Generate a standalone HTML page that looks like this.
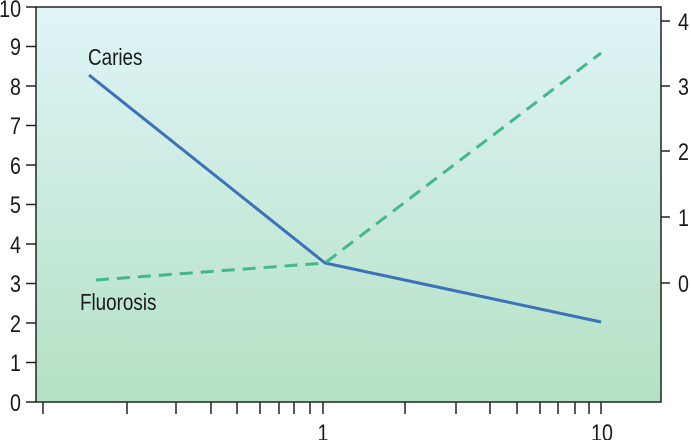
<!DOCTYPE html>
<html><head><meta charset="utf-8"><style>
html,body{margin:0;padding:0;background:#fff;width:691px;height:440px;overflow:hidden}
svg text{font-family:"Liberation Sans",sans-serif;fill:#1a1a1a;transform-box:fill-box;transform:scaleX(.82)}
.e text{transform-origin:right center}
.s text{transform-origin:left center}
.m text{transform-origin:center center}
</style></head><body>
<svg width="691" height="440" viewBox="0 0 691 440" xmlns="http://www.w3.org/2000/svg">
<defs><linearGradient id="g" x1="0" y1="0" x2="0" y2="1">
<stop offset="0" stop-color="#e0f4f8"/><stop offset="1" stop-color="#b3e1c3"/></linearGradient></defs>
<rect x="36" y="7" width="625" height="395" fill="url(#g)" stroke="#222" stroke-width="1.5"/>
<g stroke="#222" stroke-width="1.5">
<line x1="26" y1="402" x2="36" y2="402"/><line x1="26" y1="362.5" x2="36" y2="362.5"/><line x1="26" y1="323" x2="36" y2="323"/><line x1="26" y1="283.5" x2="36" y2="283.5"/><line x1="26" y1="244" x2="36" y2="244"/><line x1="26" y1="204.5" x2="36" y2="204.5"/><line x1="26" y1="165" x2="36" y2="165"/><line x1="26" y1="125.5" x2="36" y2="125.5"/><line x1="26" y1="86" x2="36" y2="86"/><line x1="26" y1="46.5" x2="36" y2="46.5"/><line x1="26" y1="7" x2="36" y2="7"/>
<line x1="661" y1="283" x2="670" y2="283"/><line x1="661" y1="217" x2="670" y2="217"/><line x1="661" y1="151" x2="670" y2="151"/><line x1="661" y1="86" x2="670" y2="86"/><line x1="661" y1="21" x2="670" y2="21"/>
<line x1="43" y1="402" x2="43" y2="414"/><line x1="127" y1="402" x2="127" y2="414"/><line x1="176" y1="402" x2="176" y2="414"/><line x1="211" y1="402" x2="211" y2="414"/><line x1="237" y1="402" x2="237" y2="414"/><line x1="260" y1="402" x2="260" y2="414"/><line x1="279" y1="402" x2="279" y2="414"/><line x1="294" y1="402" x2="294" y2="414"/><line x1="310" y1="402" x2="310" y2="414"/><line x1="323" y1="402" x2="323" y2="414"/>
<line x1="405" y1="402" x2="405" y2="414"/><line x1="456" y1="402" x2="456" y2="414"/><line x1="490" y1="402" x2="490" y2="414"/><line x1="517" y1="402" x2="517" y2="414"/><line x1="540" y1="402" x2="540" y2="414"/><line x1="558" y1="402" x2="558" y2="414"/><line x1="575" y1="402" x2="575" y2="414"/><line x1="589" y1="402" x2="589" y2="414"/><line x1="601" y1="402" x2="601" y2="414"/>
</g>
<g class="e" font-size="24" text-anchor="end">
<text x="21" y="411">0</text><text x="21" y="371">1</text><text x="21" y="332">2</text><text x="21" y="292">3</text><text x="21" y="253">4</text><text x="21" y="213">5</text><text x="21" y="174">6</text><text x="21" y="134">7</text><text x="21" y="95">8</text><text x="21" y="55">9</text><text x="21" y="17">10</text>
</g>
<g class="s" font-size="24">
<text x="678" y="292">0</text><text x="678" y="226">1</text><text x="678" y="160">2</text><text x="678" y="95">3</text><text x="678" y="30">4</text>
</g>
<g class="m" font-size="24" text-anchor="middle"><text x="323" y="441">1</text><text x="602" y="441">10</text></g>
<g class="s" font-size="23">
<text x="88" y="65">Caries</text>
<text x="80" y="310">Fluorosis</text>
</g>
<polyline points="89,75 325,263 601,322" fill="none" stroke="#3c72b8" stroke-width="3"/>
<polyline points="96,280 325,263 601,53" fill="none" stroke="#44b88a" stroke-width="3" stroke-dasharray="13,8"/>
</svg>
</body></html>
